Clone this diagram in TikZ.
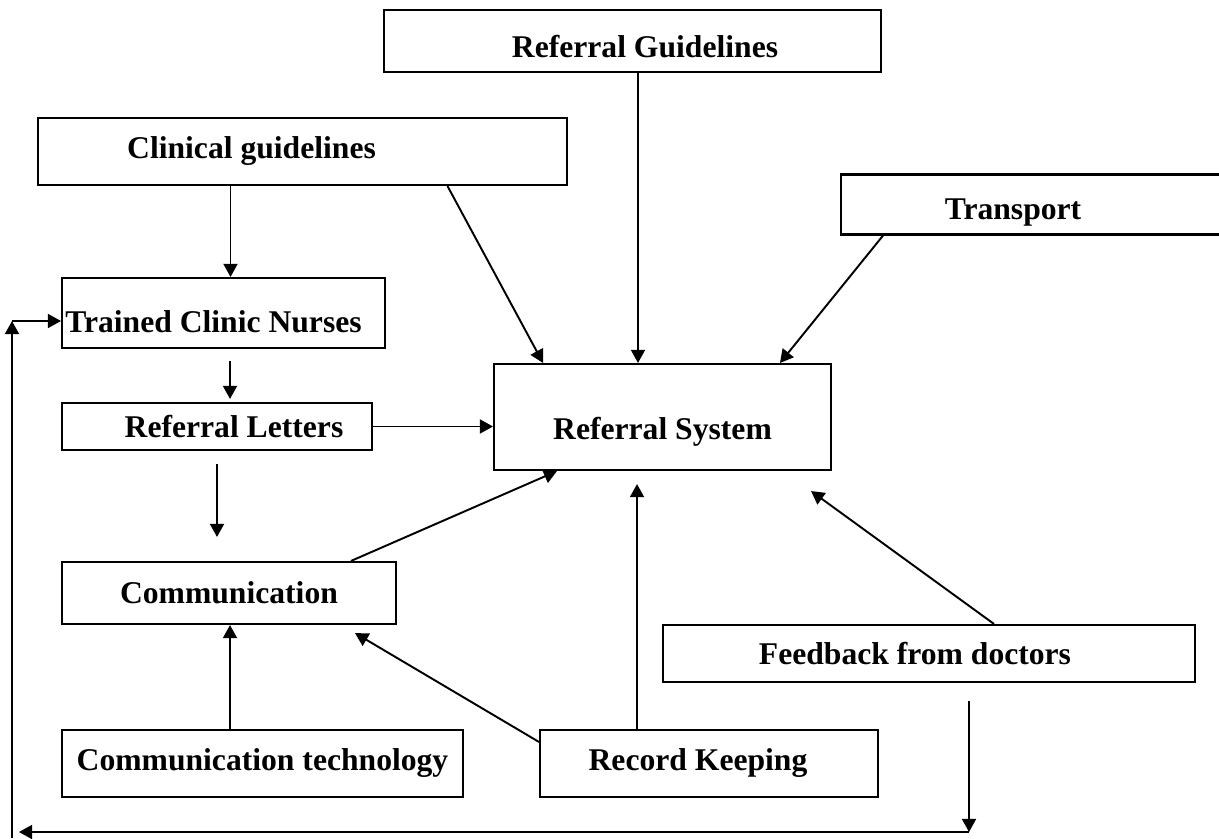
\documentclass[tikz,border=0pt]{standalone}
\usepackage{fontspec}
\setmainfont{Liberation Serif}
\usetikzlibrary{arrows.meta}

% push a label down inside its box, the box keeps its size
\newcommand{\shiftdown}[2]{\raisebox{-#1}[\height][\depth]{#2}}

\begin{document}
\begin{tikzpicture}[x=0.02cm, y=-0.02cm,
  every node/.style={font=\fontsize{18}{21}\selectfont\bfseries},
  box/.style={draw, line width=1.2pt, inner sep=0pt},
  arr/.style={-{Triangle[length=7.5pt,width=8pt]}, line width=1.1pt}]

  \useasboundingbox (0,0) rectangle (1219,838);

  %% Top row: guidelines and transport
  \node[box, minimum width=9.94cm, minimum height=1.24cm] (rg) at (632.5,41) {\hspace*{0.5cm}\shiftdown{0.12cm}{Referral Guidelines}};
  \node[box, minimum width=10.58cm, minimum height=1.34cm] (cg) at (302.5,151.5) {Clinical guidelines\hspace*{2.04cm}};
  \node[box, minimum width=7.98cm, minimum height=1.2cm] (tr) at (1040.5,204.5) {\shiftdown{0.16cm}{Transport}\hspace*{1.1cm}};

  %% Left column
  \node[box, minimum width=6.46cm, minimum height=1.4cm] (tcn) at (223.5,313) {\shiftdown{0.18cm}{Trained Clinic Nurses}\hspace*{0.4cm}};
  \node[box, minimum width=6.2cm, minimum height=0.94cm] (rl) at (217,426.5) {\hspace*{0.68cm}Referral Letters};
  \node[box, minimum width=6.68cm, minimum height=1.24cm] (cm) at (229,593) {Communication};
  \node[box, minimum width=8.02cm, minimum height=1.34cm] (ct) at (262.5,763.5) {Communication technology};

  %% Centre and right
  \node[box, minimum width=6.74cm, minimum height=2.12cm] (rs) at (662.5,417) {\shiftdown{0.3cm}{Referral System}};
  \node[box, minimum width=10.64cm, minimum height=1.14cm] (fb) at (929,653.5) {Feedback from doctors\hspace*{0.56cm}};
  \node[box, minimum width=6.76cm, minimum height=1.34cm] (rk) at (709,763.5) {Record Keeping\hspace*{0.44cm}};

  % arrows into the referral system
  \draw[arr] ([xshift=0.11cm]rg.south) -- ([xshift=-0.49cm]rs.north);
  \draw[arr] ([xshift=2.9cm]cg.south) -- ([xshift=-2.39cm]rs.north);
  \draw[arr] ([xshift=-3.15cm]tr.south) -- ([xshift=2.35cm]rs.north);
  \draw[arr] (rl.east) -- (rl.east -| rs.west);
  \draw[arr] ([xshift=2.44cm]cm.north) -- ([xshift=-2.11cm]rs.south);
  \draw[arr, shorten >=0.26cm] ([xshift=-1.44cm]rk.north) -- ([xshift=-1.44cm]rk.north |- rs.south);
  \draw[arr] ([xshift=1.3cm]fb.north) -- ([shift={(-0.42cm,-0.4cm)}]rs.south east);

  % left chain
  \draw[arr] ([xshift=-1.44cm]cg.south) -- ([xshift=-1.44cm]cg.south |- tcn.north);
  \draw[arr, shorten <=0.24cm, shorten >=0.06cm] ([xshift=0.13cm]tcn.south) -- ([xshift=0.13cm]tcn.south |- rl.north);
  \draw[arr, shorten <=0.26cm, shorten >=0.48cm] (rl.south) -- (rl.south |- cm.north);
  \draw[arr] ([xshift=-0.65cm]ct.north) -- ([xshift=-0.65cm]ct.north |- cm.south);
  \draw[arr] ([yshift=-0.26cm]rk.north west) -- ([shift={(2.52cm,-0.16cm)}]cm.south);

  % feedback loop back to the nurses
  \coordinate (fbDown) at ([xshift=0.8cm, yshift=-0.36cm]fb.south);
  \coordinate (loopBR) at (969,832);
  \coordinate (loopBL) at (19,832);
  \coordinate (loopSL) at (12,838);
  \coordinate (loopTL) at (12,321);
  \draw[arr] (fbDown) -- (loopBR);
  \draw[arr] (loopBR) -- (loopBL);
  \draw[arr] (loopSL) -- (loopTL);
  \draw[arr] (loopTL) -- (loopTL -| tcn.west);

\end{tikzpicture}
\end{document}
